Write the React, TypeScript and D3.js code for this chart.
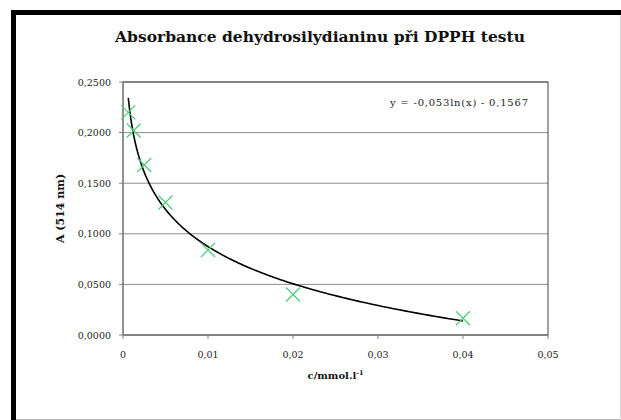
import React from "react";
import * as d3 from "d3";

// measured concentrations (mmol/l) and absorbances at 514 nm
const concentrations = [0.000625, 0.00125, 0.0025, 0.005, 0.01, 0.02, 0.04];
const absorbances = [0.22, 0.202, 0.168, 0.131, 0.084, 0.04, 0.0165];

const xTicks = [0, 0.01, 0.02, 0.03, 0.04, 0.05];
const yTicks = [0, 0.05, 0.1, 0.15, 0.2, 0.25];

// logarithmic trendline as printed on the chart
const trendA = -0.053;
const trendB = -0.1567;
const trendLabel = "y = -0,053ln(x) - 0,1567";

const W = 621;
const H = 420;
const plot = { left: 123, right: 548, top: 82, bottom: 335 };

const fmtX = (v: number) => (v === 0 ? "0" : v.toFixed(2).replace(".", ","));
const fmtY = (v: number) => v.toFixed(4).replace(".", ",");

export default function App() {
  const x = d3.scaleLinear().domain([0, 0.05]).range([plot.left, plot.right]);
  const y = d3.scaleLinear().domain([0, 0.25]).range([plot.bottom, plot.top]);

  const xMin = concentrations[0];
  const xMax = concentrations[concentrations.length - 1];
  const trendPts = d3
    .range(0, 201)
    .map((i) => xMin * Math.pow(xMax / xMin, i / 200))
    .map((c) => [c, trendA * Math.log(c) + trendB] as [number, number]);
  const line = d3
    .line<[number, number]>()
    .x((d) => x(d[0]))
    .y((d) => y(d[1]));

  const font = "'DejaVu Serif', serif";
  const m = 7;

  return (
    <svg
      width={W}
      height={H}
      style={{ position: "absolute", left: 0, top: 0, background: "#fff" }}
    >
      {/* outer frame */}
      <line x1={11} x2={W} y1={12.5} y2={12.5} stroke="#000" strokeWidth={5} />
      <line x1={13.5} x2={13.5} y1={10} y2={H} stroke="#000" strokeWidth={5} />
      <line x1={16} x2={W} y1={419.5} y2={419.5} stroke="#bbb" strokeWidth={1} />
      <line x1={620.5} x2={620.5} y1={15} y2={H} stroke="#ddd" strokeWidth={1} />

      <text
        x={320}
        y={42}
        textAnchor="middle"
        fontFamily={font}
        fontWeight="bold"
        fontSize={15.5}
        fill="#111"
      >
        Absorbance dehydrosilydianinu při DPPH testu
      </text>

      {/* gridlines */}
      {yTicks.map((t) => (
        <line
          key={"g" + t}
          x1={plot.left}
          x2={plot.right}
          y1={y(t)}
          y2={y(t)}
          stroke="#8c8c8c"
          strokeWidth={1}
        />
      ))}
      <rect
        x={plot.left}
        y={plot.top}
        width={plot.right - plot.left}
        height={plot.bottom - plot.top}
        fill="none"
        stroke="#444"
        strokeWidth={1}
      />
      <line x1={plot.left} x2={plot.left} y1={plot.top} y2={plot.bottom} stroke="#808080" />
      <line x1={plot.left} x2={plot.right} y1={plot.bottom} y2={plot.bottom} stroke="#808080" />

      {/* y axis */}
      {yTicks.map((t) => (
        <g key={"y" + t}>
          <line x1={plot.left - 4} x2={plot.left} y1={y(t)} y2={y(t)} stroke="#808080" />
          <text
            x={plot.left - 12}
            y={y(t) + 3.5}
            textAnchor="end"
            fontFamily={font}
            fontSize={9.5}
            fill="#222"
          >
            {fmtY(t)}
          </text>
        </g>
      ))}
      <text
        transform={`translate(64,${(plot.top + plot.bottom) / 2}) rotate(-90)`}
        textAnchor="middle"
        fontFamily={font}
        fontWeight="bold"
        fontSize={11}
        fill="#111"
      >
        A (514 nm)
      </text>

      {/* x axis */}
      {xTicks.map((t) => (
        <g key={"x" + t}>
          <line x1={x(t)} x2={x(t)} y1={plot.bottom} y2={plot.bottom + 4} stroke="#808080" />
          <text
            x={x(t)}
            y={plot.bottom + 23}
            textAnchor="middle"
            fontFamily={font}
            fontSize={9.5}
            fill="#222"
          >
            {fmtX(t)}
          </text>
        </g>
      ))}
      <text
        x={(plot.left + plot.right) / 2}
        y={379}
        textAnchor="middle"
        fontFamily={font}
        fontWeight="bold"
        fontSize={10}
        fill="#111"
      >
        c/mmol.l
        <tspan dy={-4} fontSize={6.5}>
          -1
        </tspan>
      </text>

      {/* trendline */}
      <path d={line(trendPts) || ""} fill="none" stroke="#000" strokeWidth={1.6} />

      {/* data markers */}
      {concentrations.map((c, i) => {
        const cx = x(c);
        const cy = y(absorbances[i]);
        return (
          <path
            key={"p" + i}
            d={`M${cx - m},${cy - m}L${cx + m},${cy + m}M${cx - m},${cy + m}L${cx + m},${cy - m}`}
            stroke="#4fcf7a"
            strokeWidth={1.3}
            fill="none"
          />
        );
      })}

      <text x={390} y={106} fontFamily={font} fontSize={10} textLength={138} fill="#222">
        {trendLabel}
      </text>
    </svg>
  );
}
